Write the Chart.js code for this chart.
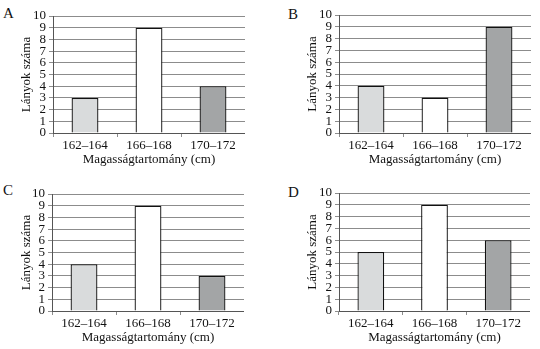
<!DOCTYPE html>
<html>
<head>
<meta charset="utf-8">
<script src="https://cdn.jsdelivr.net/npm/chart.js@4"></script>
<style>
  html, body { margin: 0; padding: 0; background: #fff; overflow: hidden; }
  body { width: 540px; height: 349px; position: relative; font-family: 'Liberation Serif', serif; }
  .panel { position: absolute; }
  .letter { position: absolute; font-size: 15px; line-height: 15px; color: #111; }
</style>
</head>
<body>
<div class="letter" style="left:3px;top:6px">A</div>
<div class="letter" style="left:288px;top:7px">B</div>
<div class="letter" style="left:3px;top:183px">C</div>
<div class="letter" style="left:288px;top:185px">D</div>

<div class="panel" style="left:0;top:0;width:245px;height:175px"><canvas id="chartA"></canvas></div>
<div class="panel" style="left:286px;top:0;width:245px;height:175px"><canvas id="chartB"></canvas></div>
<div class="panel" style="left:0;top:175px;width:244px;height:178px"><canvas id="chartC"></canvas></div>
<div class="panel" style="left:286px;top:175px;width:244px;height:178px"><canvas id="chartD"></canvas></div>

<script>
// Adatok
const categories = ['162–164', '166–168', '170–172'];
const valuesA = [3, 9, 4];
const valuesB = [4, 3, 9];
const valuesC = [4, 9, 3];
const valuesD = [5, 9, 6];
const yMax = 10;

const barColors = ['#d9dbdc', '#ffffff', '#a3a5a6'];
const serif = 'Liberation Serif';

// jobb oldali keret
const frameRight = {
    id: 'frameRight',
    afterDraw(chart) {
        const a = chart.chartArea;
        const ctx = chart.ctx;
        ctx.save();
        ctx.strokeStyle = '#8c8c8c';
        ctx.lineWidth = 1;
        ctx.beginPath();
        ctx.moveTo(Math.round(a.right) + 0.5, a.top);
        ctx.lineTo(Math.round(a.right) + 0.5, a.bottom);
        ctx.stroke();
        ctx.restore();
    }
};

function makeChart(id, values, yWidth, padTop) {
    new Chart(document.getElementById(id).getContext('2d'), {
        type: 'bar',
        data: {
            labels: categories,
            datasets: [{
                data: values,
                backgroundColor: barColors,
                borderColor: '#111',
                borderWidth: 1.3,
                categoryPercentage: 1,
                barPercentage: 0.42
            }]
        },
        plugins: [frameRight],
        options: {
            responsive: true,
            maintainAspectRatio: false,
            animation: false,
            layout: { padding: { top: padTop, left: 0, right: 0, bottom: 0 } },
            plugins: {
                legend: { display: false },
                tooltip: { enabled: false }
            },
            scales: {
                y: {
                    min: 0,
                    max: yMax,
                    afterFit: (scale) => { scale.width = yWidth; },
                    ticks: {
                        stepSize: 1,
                        autoSkip: false,
                        padding: 3,
                        color: '#111',
                        font: { family: serif, size: 13, lineHeight: 1 }
                    },
                    grid: { color: '#8c8c8c', lineWidth: 1, tickLength: 4 },
                    border: { color: '#555', width: 1 },
                    title: {
                        display: true,
                        text: 'Lányok száma',
                        color: '#111',
                        font: { family: serif, size: 13, lineHeight: 1.2 },
                        padding: { top: 19, bottom: 0 }
                    }
                },
                x: {
                    afterFit: (scale) => { scale.height = 42; },
                    ticks: {
                        padding: 2,
                        color: '#111',
                        font: { family: serif, size: 13, lineHeight: 1 }
                    },
                    grid: { drawOnChartArea: false, color: '#8c8c8c', tickLength: 4 },
                    border: { color: '#555', width: 1 },
                    title: {
                        display: true,
                        text: 'Magasságtartomány (cm)',
                        color: '#111',
                        font: { family: serif, size: 13, lineHeight: 1.2 },
                        padding: { top: 0, bottom: 8 }
                    }
                }
            }
        }
    });
}

makeChart('chartA', valuesA, 53, 16);
makeChart('chartB', valuesB, 53, 15);
makeChart('chartC', valuesC, 52, 19);
makeChart('chartD', valuesD, 53, 18);
</script>
</body>
</html>
